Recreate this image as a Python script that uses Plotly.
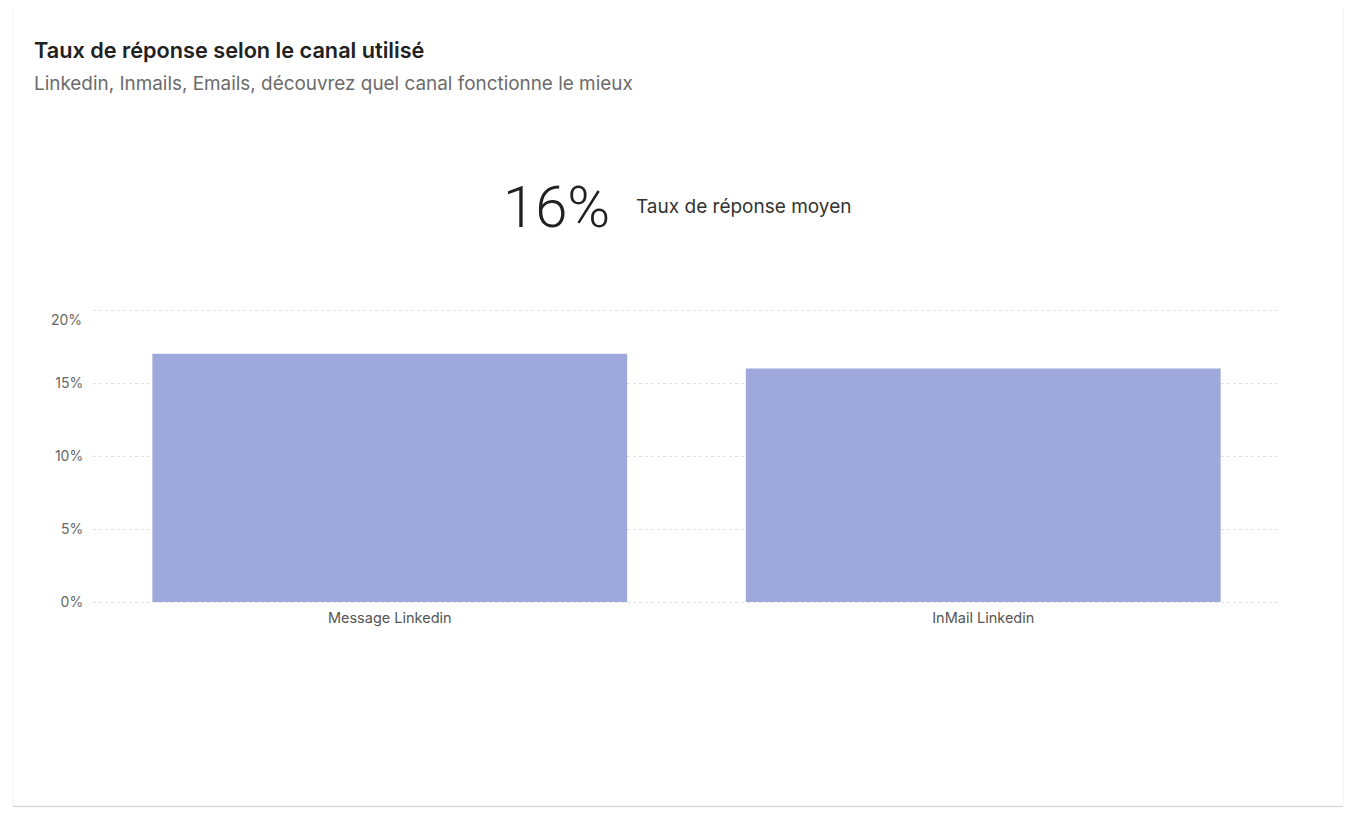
import plotly.graph_objs as go

# data
canaux = ["Message Linkedin", "InMail Linkedin"]
taux = [0.17, 0.16]
taux_moyen = "16%"
y_ticks = [0, 0.05, 0.1, 0.15, 0.2]
y_labels = ["0%", "5%", "10%", "15%", "20%"]

# the page body has an 8px margin, so everything is placed in page pixels minus 8
OFF = 8
W, H = 1362 - 2 * OFF, 820 - 2 * OFF
PAD = 5  # extra px above/below so the 0% and 20% grid lines are not clipped
ML, MR = 93 - OFF, W - (1280 - OFF)
MT, MB = 310 - OFF - PAD, H - (602 - OFF) - PAD
PW, PH = W - ML - MR, H - MT - MB
ypad = PAD * 0.2 / (PH - 2 * PAD)


def px(x):
    return (x - OFF - ML) / PW


def py(y):
    return (H - MB - (y - OFF)) / PH


fig = go.Figure()
fig.add_trace(go.Bar(x=canaux, y=taux, marker=dict(color="#9fa8da", line=dict(width=0)),
                     hoverinfo="x+y"))

fig.update_layout(
    width=W, height=H,
    margin=dict(l=ML, r=MR, t=MT, b=MB, pad=0),
    paper_bgcolor="#ffffff",
    plot_bgcolor="rgba(0,0,0,0)",
    font=dict(family="Inter, Roboto, sans-serif", size=14, color="#666"),
    bargap=0.2,
    showlegend=False,
    xaxis=dict(showgrid=False, zeroline=False, showline=False,
               ticks="", ticklabelstandoff=0,
               tickfont=dict(size=14.5, color="#555")),
    yaxis=dict(range=[-ypad, 0.2 + ypad], tickvals=y_ticks,
               ticktext=y_labels[:-1] + [""],
               showgrid=True, gridcolor="#e2e2e2", griddash="dot", gridwidth=1,
               zeroline=False, showline=False,
               ticks="outside", ticklen=6, tickcolor="rgba(0,0,0,0)",
               tickfont=dict(size=14, color="#666")),
)

# top tick label sits a little below its grid line
fig.add_annotation(xref="paper", yref="y", x=px(84), y=y_ticks[-1], yshift=-9,
                   xanchor="right", yanchor="middle", showarrow=False,
                   text=y_labels[-1], font=dict(size=14, color="#666"))

# card
fig.add_shape(type="rect", xref="paper", yref="paper", layer="below",
              x0=px(13), x1=px(1343), y0=py(807), y1=py(8),
              fillcolor="#b8b8b8", line=dict(width=0))
fig.add_shape(type="rect", xref="paper", yref="paper", layer="below",
              x0=px(13), x1=px(1343), y0=py(806), y1=py(7),
              fillcolor="#ffffff", line=dict(color="#f0f0f0", width=1))

fig.add_annotation(xref="paper", yref="paper", x=px(32), y=py(50),
                   xanchor="left", yanchor="middle", showarrow=False,
                   text="Taux de réponse selon le canal utilisé",
                   font=dict(size=21.7, color="#212121", weight=600))
fig.add_annotation(xref="paper", yref="paper", x=px(32), y=py(84),
                   xanchor="left", yanchor="middle", showarrow=False,
                   text="Linkedin, Inmails, Emails, découvrez quel canal fonctionne le mieux",
                   font=dict(size=18.9, color="#6b6b6b"))
fig.add_annotation(xref="paper", yref="paper", x=px(612), y=py(207),
                   xanchor="right", yanchor="middle", showarrow=False,
                   text=taux_moyen,
                   font=dict(family="Roboto, sans-serif", size=58, color="#212121", weight=300))
fig.add_annotation(xref="paper", yref="paper", x=px(634), y=py(207),
                   xanchor="left", yanchor="middle", showarrow=False,
                   text="Taux de réponse moyen",
                   font=dict(size=19, color="#333333"))

fig.write_html("out.html")
